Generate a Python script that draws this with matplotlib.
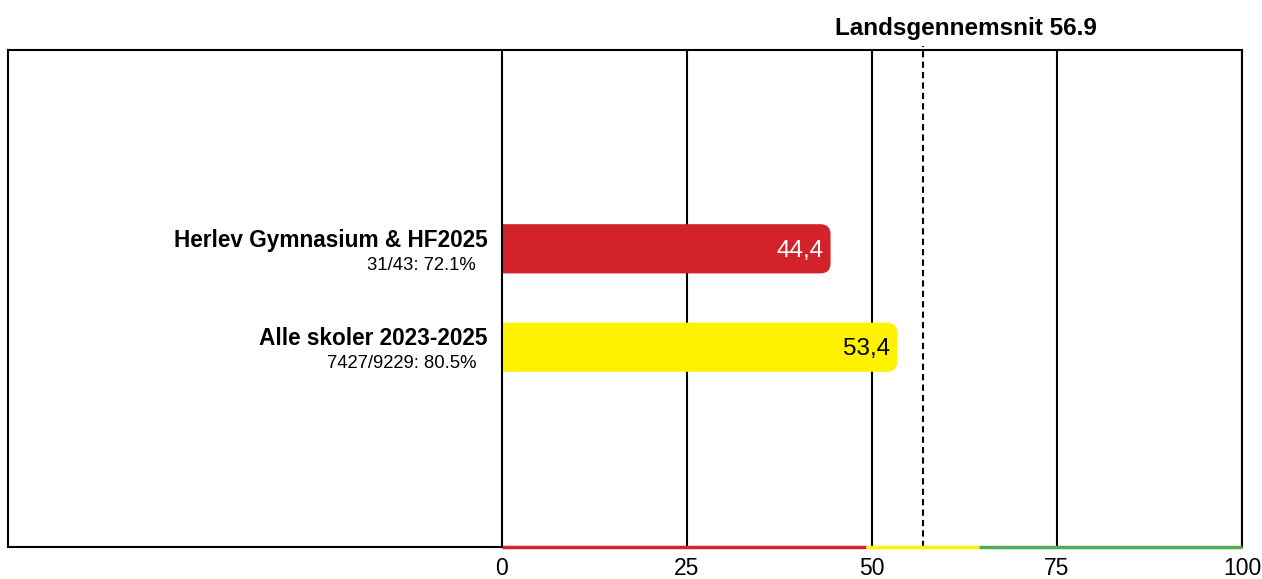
import matplotlib
matplotlib.use("Agg")
import matplotlib.pyplot as plt
from matplotlib.patches import FancyBboxPatch, Rectangle

plt.rcParams['font.family'] = ['Liberation Sans', 'DejaVu Sans']

categories = ["Herlev Gymnasium & HF2025", "Alle skoler 2023-2025"]
sublabels = ["31/43: 72.1%", "7427/9229: 80.5%"]
values = [44.4, 53.4]
value_labels = ["44,4", "53,4"]
bar_colors = ["#d2232a", "#fff200"]
text_colors = ["white", "black"]
national_avg = 56.9
ticks = [0, 25, 50, 75, 100]
zones = [(0, 49.2, "#d2232a"), (49.2, 64.5, "#fff200"), (64.5, 100, "#4caf50")]

W, H = 1262, 579
fig = plt.figure(figsize=(W / 100, H / 100), dpi=100)
left_px, right_px, top_px, bot_px = 8, 1242, 50, 547
ax = fig.add_axes([left_px / W, (H - bot_px) / H, (right_px - left_px) / W, (bot_px - top_px) / H])
xmin = -(502 - left_px) / ((right_px - 502) / 100)
ymax, ymin = 5.03, -0.02
ax.set_xlim(xmin, 100)
ax.set_ylim(ymax, ymin)
for s in ax.spines.values():
    s.set_linewidth(1.5)
    s.set_color("black")
ax.spines['bottom'].set_visible(False)
ax.plot([xmin, 0], [ymax, ymax], color="black", lw=1.5, clip_on=False, zorder=5)
for a, b, c in zones:
    ax.plot([a, b], [ymax, ymax], color=c, lw=2.5, clip_on=False, zorder=5, solid_capstyle='butt')

for t in ticks:
    ax.axvline(t, color="black", lw=1.5, zorder=4 if t == 0 else 1)
ax.set_xticks(ticks)
ax.set_xticklabels([str(t) for t in ticks], fontsize=16.5)
ax.tick_params(axis='x', length=0, pad=7)
ax.set_yticks([])

ypos = [2.0, 3.0]
bars = ax.barh(ypos, values, height=0.5, color=bar_colors)
px_x = (right_px - 502) / 100
px_y = (bot_px - top_px) / (ymax - ymin)
r = 10
clip = Rectangle((0, ymin), 100, ymax - ymin, transform=ax.transData)
for b, col in zip(bars, bar_colors):
    b.set_visible(False)
    x0, y0, w, h = b.get_x(), b.get_y(), b.get_width(), b.get_height()
    rs = r / px_x
    p = FancyBboxPatch((x0 - 3 * rs, y0), w + 3 * rs, h,
                       boxstyle=f"round,pad=0,rounding_size={rs}",
                       mutation_aspect=(r / px_y) / rs, facecolor=col, edgecolor="none",
                       zorder=3)
    ax.add_patch(p)
    p.set_clip_path(clip)

for y, v, lab, tc in zip(ypos, values, value_labels, text_colors):
    ax.text(v - 1.0, y + 0.02, lab, ha="right", va="center", fontsize=17.5, color=tc, zorder=4)

for y, cat, sub in zip(ypos, categories, sublabels):
    ax.text(-1.9, y - 0.085, cat, ha="right", va="center", fontsize=16.3, fontweight="bold")
    ax.text(-3.5, y + 0.165, sub, ha="right", va="center", fontsize=13.3)

ax.plot([national_avg, national_avg], [ymax, ymin - 0.04], color="black", lw=1.5,
        linestyle=(0, (3, 2)), clip_on=False, zorder=2)
fig.text(966 / W, 1 - 28 / H, f"Landsgennemsnit {national_avg}", ha="center", va="center",
         fontsize=17.5, fontweight="bold")

fig.savefig("out.png", dpi=100)
